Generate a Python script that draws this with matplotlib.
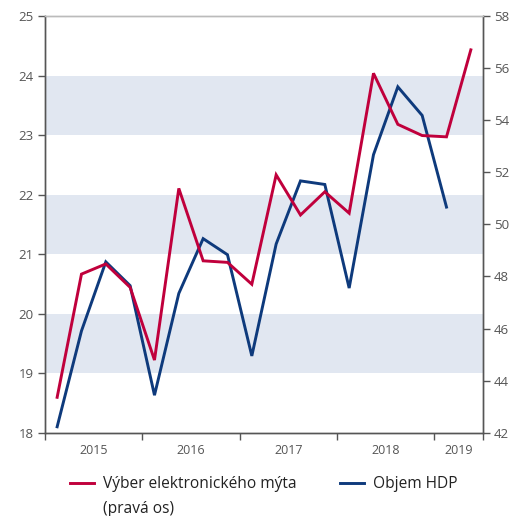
import matplotlib
matplotlib.use("Agg")
import matplotlib.pyplot as plt
import numpy as np

plt.rcParams['font.family'] = ['Open Sans', 'DejaVu Sans']

# quarterly data 2015Q1 ..
years = ['2015', '2016', '2017', '2018', '2019']
hdp = [18.10, 19.71, 20.87, 20.47, 18.63, 20.34, 21.26, 20.99, 19.29,
       21.17, 22.23, 22.17, 20.43, 22.67, 23.81, 23.33, 21.79]
myto = [43.36, 48.09, 48.48, 47.58, 44.79, 51.38, 48.60, 48.54, 47.70,
        51.90, 50.36, 51.25, 50.43, 55.80, 53.84, 53.41, 53.36, 56.70]

red = '#c0003c'
blue = '#0e3a7c'
band = '#e1e7f1'
spine = '#555555'
txt = '#555555'

fig = plt.figure(figsize=(5.31, 5.16), dpi=100)
ax = fig.add_axes([0.0847, 0.1614, 0.8249, 0.8076])
ax2 = ax.twinx()

for lo in [19, 21, 23]:
    ax.axhspan(lo, lo + 1, color=band, lw=0, zorder=0)

x_h = np.arange(len(hdp)) + 0.5
x_m = np.arange(len(myto)) + 0.5
l1, = ax.plot(x_h, hdp, color=blue, lw=2.1, zorder=3, solid_joinstyle='miter')
l2, = ax2.plot(x_m, myto, color=red, lw=2.1, zorder=3, solid_joinstyle='miter')

ax.set_xlim(0, 18)
ax.set_ylim(18, 25)
ax2.set_ylim(42, 58)
ax.set_yticks(range(18, 26))
ax2.set_yticks(range(42, 59, 2))

ax.set_xticks([0, 4, 8, 12, 16, 18])
ax.set_xticklabels([])
ax.set_xticks([2, 6, 10, 14, 17], minor=True)
ax.set_xticklabels(years, minor=True)
ax.tick_params(axis='x', which='major', length=5, width=1, color=spine, direction='out')
ax.tick_params(axis='x', which='minor', length=0, pad=8, labelsize=9, labelcolor=txt)
ax.tick_params(axis='y', length=5, width=1, color=spine, labelsize=9.5, labelcolor=txt, pad=3)
ax2.tick_params(axis='y', length=5, width=1, color=spine, labelsize=9.5, labelcolor=txt, pad=3)

for a in (ax, ax2):
    a.spines['top'].set_color('#bbbbbb')
    a.spines['top'].set_linewidth(1)
    for s in ('left', 'right', 'bottom'):
        a.spines[s].set_color(spine)
        a.spines[s].set_linewidth(1)

leg = fig.legend([l2, l1], ['Výber elektronického mýta', 'Objem HDP'],
                 loc='upper left', bbox_to_anchor=(0.132, 0.077), ncol=2, frameon=False,
                 fontsize=11.2, handlelength=1.55, handletextpad=0.55, columnspacing=2.8,
                 borderaxespad=0, borderpad=0)
for t in leg.get_texts():
    t.set_color('#222222')

# second line of the first label, under its text
fig.canvas.draw()
bb = leg.get_texts()[0].get_window_extent().transformed(fig.transFigure.inverted())
fig.text(bb.x0, bb.y0 - 25 / 516, '(pravá os)', fontsize=11.2, color='#222222',
         ha='left', va='bottom')

fig.savefig('out.png', dpi=100)
